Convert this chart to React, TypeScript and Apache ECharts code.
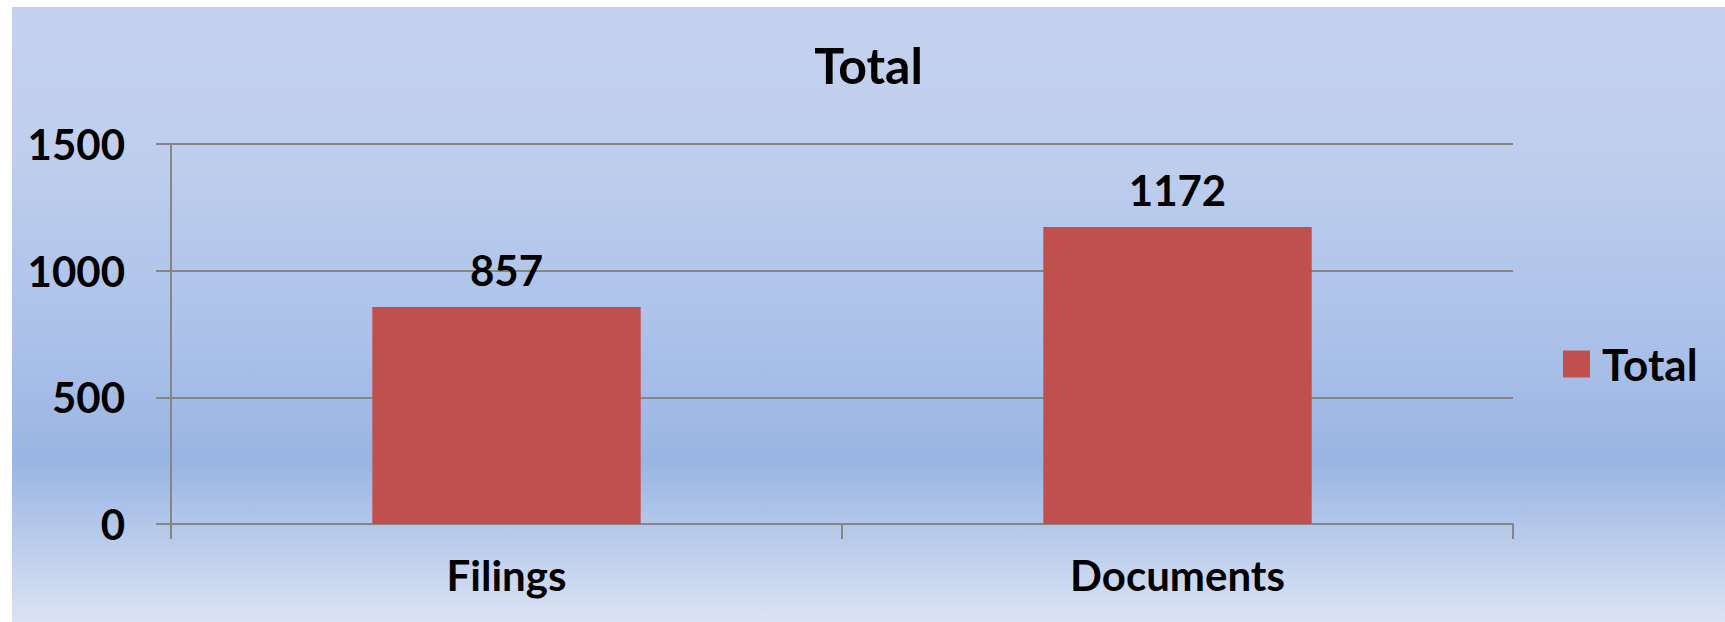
import React, { useEffect, useRef } from "react";
import * as echarts from "echarts";

const categories = ["Filings", "Documents"];
const seriesName = "Total";
const values = [857, 1172];
const yTicks = [0, 500, 1000, 1500];

const FONT = "Lato";

export default function App() {
  const ref = useRef<HTMLDivElement>(null);
  useEffect(() => {
    if (!ref.current) return;
    const chart = echarts.init(ref.current, undefined, { renderer: "svg" });
    chart.setOption({
      animation: false,
      backgroundColor: {
        type: "linear",
        x: 0,
        y: 0,
        x2: 0,
        y2: 1,
        colorStops: [
          { offset: 0, color: "#c3d1ee" },
          { offset: 0.22, color: "#c0cfed" },
          { offset: 0.5, color: "#aec3ea" },
          { offset: 0.74, color: "#9ab5e3" },
          { offset: 1, color: "#dbe3f4" },
        ],
      },
      title: {
        text: seriesName,
        left: "center",
        top: 28,
        textStyle: { fontFamily: FONT, fontWeight: "bold", fontSize: 50, color: "#000" },
      },
      legend: {
        data: [seriesName],
        left: 1546,
        top: 330,
        itemWidth: 27,
        itemHeight: 27,
        itemGap: 10,
        icon: "rect",
        textStyle: {
          fontFamily: FONT,
          fontWeight: "bold",
          fontSize: 44,
          lineHeight: 44,
          color: "#000",
          padding: [0, 0, 0, 7],
        },
      },
      grid: { left: 159, right: 212, top: 137, bottom: 98, containLabel: false },
      xAxis: {
        type: "category",
        data: categories,
        axisLine: { show: true, lineStyle: { color: "#868686", width: 2 } },
        axisTick: { show: true, length: 15, inside: false, lineStyle: { color: "#868686", width: 2 } },
        axisLabel: { fontFamily: FONT, fontWeight: "bold", fontSize: 42, color: "#000", margin: 30 },
        splitLine: { show: false },
      },
      yAxis: {
        type: "value",
        min: yTicks[0],
        max: yTicks[yTicks.length - 1],
        interval: yTicks[1] - yTicks[0],
        axisLine: { show: true, lineStyle: { color: "#868686", width: 2 } },
        axisTick: { show: true, length: 15, inside: false, lineStyle: { color: "#868686", width: 2 } },
        axisLabel: {
          fontFamily: FONT,
          fontWeight: "bold",
          fontSize: 42,
          color: "#000",
          margin: 46,
          formatter: (v: number) => String(v),
        },
        splitLine: { show: true, lineStyle: { color: "#868686", width: 2 } },
      },
      series: [
        {
          name: seriesName,
          type: "bar",
          data: values,
          barCategoryGap: "60%",
          itemStyle: { color: "#c0504d" },
          label: {
            show: true,
            position: "top",
            distance: 16,
            fontFamily: FONT,
            fontWeight: "bold",
            fontSize: 42,
            color: "#000",
          },
        },
      ],
    });
    return () => chart.dispose();
  }, []);
  return (
    <div
      ref={ref}
      style={{ position: "absolute", left: 12, top: 7, width: 1713, height: 615 }}
    />
  );
}
